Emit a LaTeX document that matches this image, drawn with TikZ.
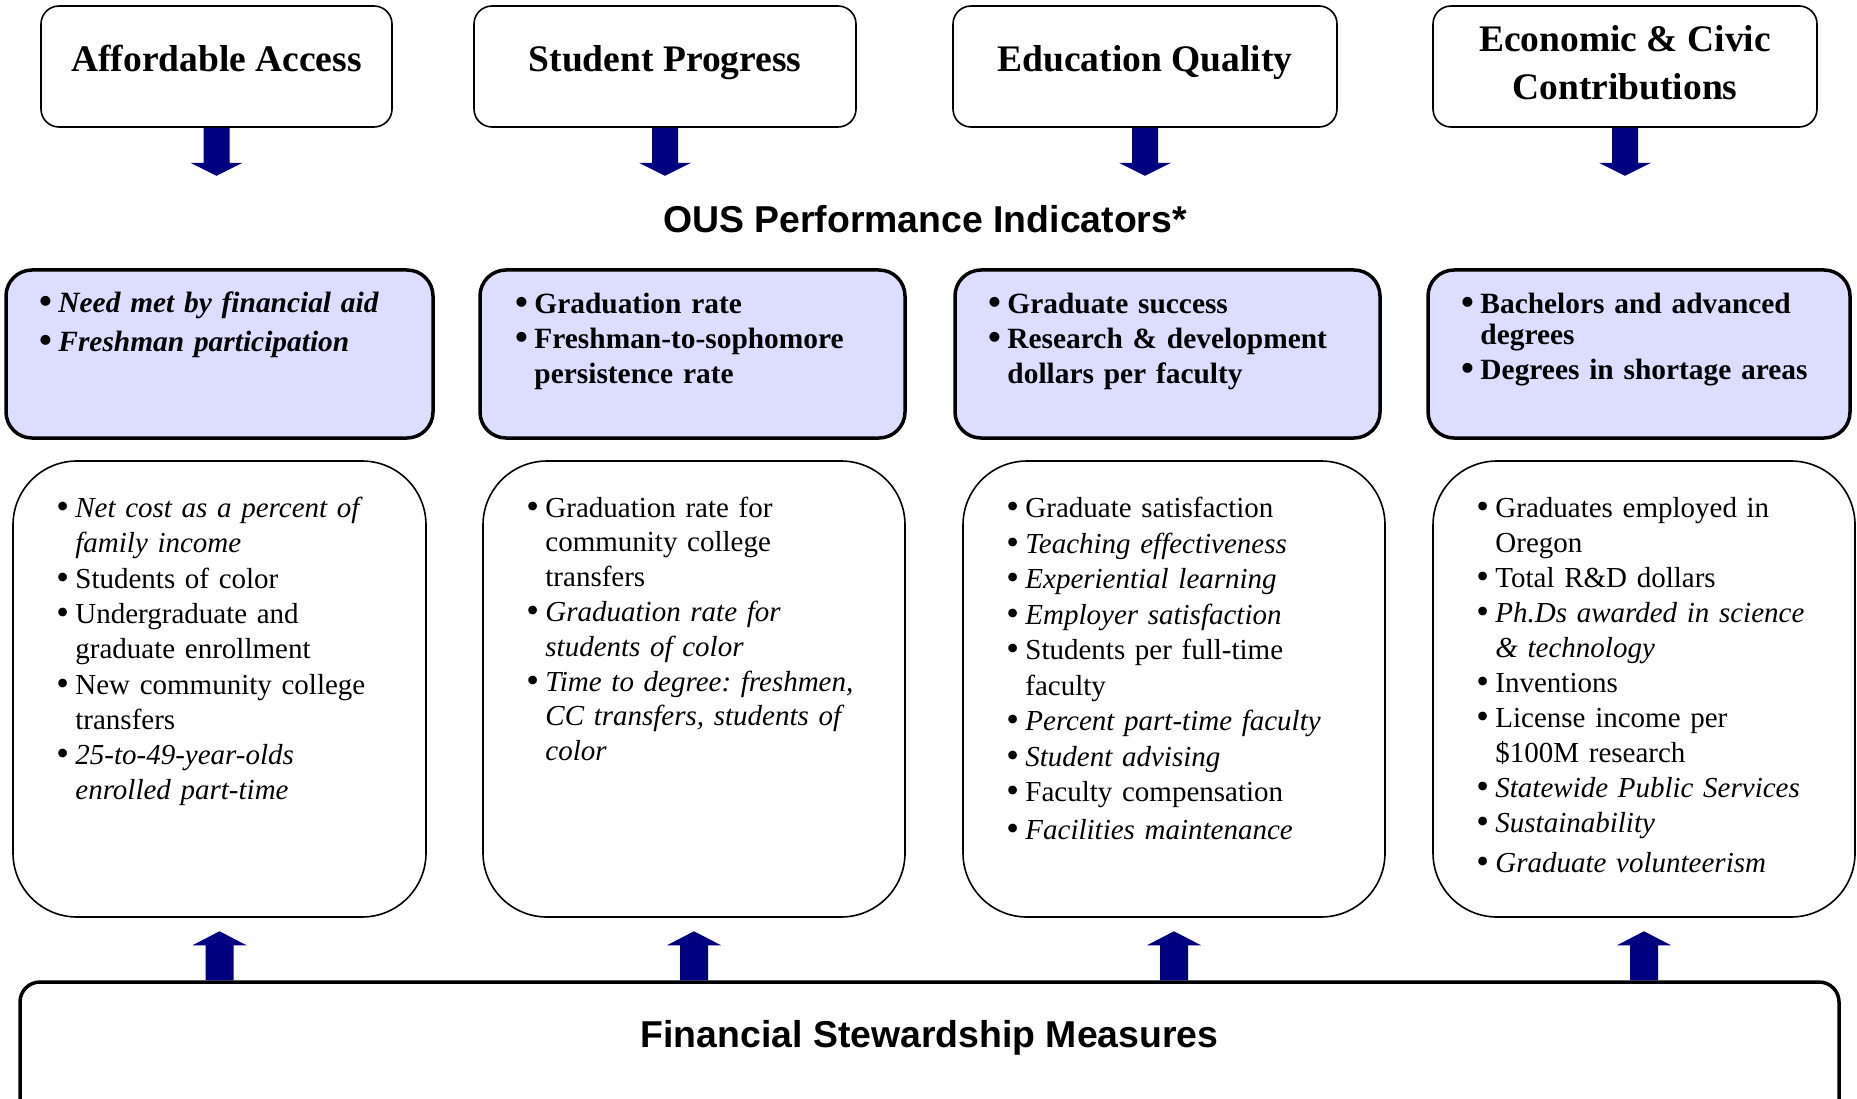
\documentclass[tikz,border=0pt]{standalone}
\usepackage{fontspec}
\setmainfont{Liberation Serif}
\newfontfamily\headsans{Liberation Sans}
\usetikzlibrary{calc}
\setlength{\parskip}{0pt}
\frenchspacing
\definecolor{arrownavy}{RGB}{0,0,128}
\definecolor{keyfill}{RGB}{221,221,255}
% a slightly enlarged bullet mark
\newcommand{\bulmark}{\raisebox{-0.04em}{\scalebox{1.25}{\textbullet}}}
% one bullet item with a hanging indent; lines inside an item are broken by \newline
\newcommand{\bul}[1]{\par\hangindent=19pt\hangafter=1\noindent\makebox[19pt][l]{\bulmark}{#1}}

\begin{document}
\begin{tikzpicture}[x=1pt,y=-1pt,
  goalbox/.style={draw=black, line width=1.6pt, rounded corners=18pt, fill=white,
    minimum height=121pt, inner sep=0pt},
  keybox/.style={draw=black, line width=3.5pt, rounded corners=26pt, fill=keyfill,
    minimum height=168pt, inner sep=0pt},
  measbox/.style={draw=black, line width=1.6pt, rounded corners=64pt, fill=white,
    minimum height=456pt, inner sep=0pt},
  basebox/.style={draw=black, line width=3.5pt, rounded corners=20pt, fill=white,
    inner sep=0pt},
  goaltext/.style={anchor=base, inner sep=0pt, align=center,
    font=\fontsize{37.5}{48}\selectfont\bfseries},
  headtext/.style={anchor=base, inner sep=0pt,
    font=\headsans\bfseries\fontsize{37.4}{44}\selectfont},
  keytext/.style={anchor=base west, inner sep=0pt, text width=385pt, align=left,
    font=\fontsize{29.4}{35}\selectfont\bfseries},
  meastext/.style={anchor=base west, inner sep=0pt, text width=375pt, align=left,
    font=\fontsize{29}{35.5}\selectfont},
  downarrow/.pic={\fill[arrownavy] (-13,0) -- (-13,35) -- (-26,35) -- (0,48)
    -- (26,35) -- (13,35) -- (13,0) -- cycle;},
  uparrow/.pic={\fill[arrownavy] (-14,0) -- (-14,-35) -- (-27,-35) -- (0,-49)
    -- (27,-35) -- (14,-35) -- (14,0) -- cycle;},
]
\useasboundingbox (0,0) rectangle (1857,1099);

% goals
\node[goalbox, minimum width=351pt] (g1) at (216.5,66.5) {};
\node[goalbox, minimum width=382pt] (g2) at (665,66.5) {};
\node[goalbox, minimum width=384pt] (g3) at (1145,66.5) {};
\node[goalbox, minimum width=384pt] (g4) at (1625,66.5) {};
\node[goaltext] (g1t) at ($(g1.north)+(0,66)$) {Affordable Access};
\node[goaltext] (g2t) at ($(g2.north)+(0,66)$) {Student Progress};
\node[goaltext] (g3t) at ($(g3.north)+(0,66)$) {Education Quality};
\node[goaltext] (g4t) at ($(g4.north)+(0,94)$) {Economic \& Civic\\Contributions};

% heading
\node[headtext] (ous) at (925,233) {OUS Performance Indicators*};

% key performance indicators
\node[keybox, minimum width=427pt] (k1) at (219.5,354) {};
\node[keybox, minimum width=425pt] (k2) at (692.5,354) {};
\node[keybox, minimum width=425pt] (k3) at (1167.5,354) {};
\node[keybox, minimum width=422pt] (k4) at (1639,354) {};

\node[keytext] (k1t) at ($(k1.north west)+(35,9)$) {%
  \bul{\itshape Need met by financial aid}\par\vspace*{4pt}%
  \bul{\itshape Freshman participation}\par};
\node[keytext] (k2t) at ($(k2.north west)+(37,10)$) {%
  \bul{Graduation rate}%
  \bul{Freshman-to-sophomore\newline persistence rate}\par};
\node[keytext] (k3t) at ($(k3.north west)+(35,10)$) {%
  \bul{Graduate success}%
  \bul{Research \& development\newline dollars per faculty}\par};
\node[keytext] (k4t) at ($(k4.north west)+(35,10)$) {%
  \bul{Bachelors and advanced\vspace{-4pt}\newline degrees}%
  \bul{Degrees in shortage areas}\par};

% supporting measures
\node[measbox, minimum width=413pt] (m1) at (219.5,689) {};
\node[measbox, minimum width=422pt] (m2) at (694,689) {};
\node[measbox, minimum width=422pt] (m3) at (1174,689) {};
\node[measbox, minimum width=422pt] (m4) at (1644,689) {};

\node[meastext, font=\fontsize{29}{35.3}\selectfont] (m1t) at ($(m1.north west)+(44,22)$) {%
  \bul{\itshape Net cost as a percent of\newline family income}%
  \bul{Students of color}%
  \bul{Undergraduate and\newline graduate enrollment}%
  \bul{New community college\newline transfers}%
  \bul{\itshape 25-to-49-year-olds\newline enrolled part-time}\par};
\node[meastext, font=\fontsize{29}{34.8}\selectfont] (m2t) at ($(m2.north west)+(44,22)$) {%
  \bul{Graduation rate for\newline community college\newline transfers}%
  \bul{\itshape Graduation rate for\newline students of color}%
  \bul{\itshape Time to degree: freshmen,\newline CC transfers, students of\newline color}\par};
\node[meastext] (m3t) at ($(m3.north west)+(44,22)$) {%
  \bul{Graduate satisfaction}%
  \bul{\itshape Teaching effectiveness}%
  \bul{\itshape Experiential learning}%
  \bul{\itshape Employer satisfaction}%
  \bul{Students per full-time\newline faculty}%
  \bul{\itshape Percent part-time faculty}%
  \bul{\itshape Student advising}%
  \bul{Faculty compensation}\par\vspace*{2.5pt}%
  \bul{\itshape Facilities maintenance}\par};
\node[meastext, font=\fontsize{29}{35}\selectfont] (m4t) at ($(m4.north west)+(44,22)$) {%
  \bul{Graduates employed in\newline Oregon}%
  \bul{Total R\&D dollars}%
  \bul{\itshape Ph.Ds awarded in science\newline \& technology}%
  \bul{Inventions}%
  \bul{License income per\newline \$100M research}%
  \bul{\itshape Statewide Public Services}%
  \bul{\itshape Sustainability}\par\vspace*{5pt}%
  \bul{\itshape Graduate volunteerism}\par};

% financial stewardship base
\node[basebox, minimum width=1819pt, minimum height=160pt] (base) at (929.5,1062) {};
\node[headtext] (baset) at ($(base.north)+(0,67)$) {Financial Stewardship Measures};

% block arrows
\foreach \g in {g1,g2,g3,g4} \pic at (\g.south) {downarrow};
\foreach \m in {m1,m2,m3,m4} \pic at (\m.south |- base.north) {uparrow};
\end{tikzpicture}
\end{document}
